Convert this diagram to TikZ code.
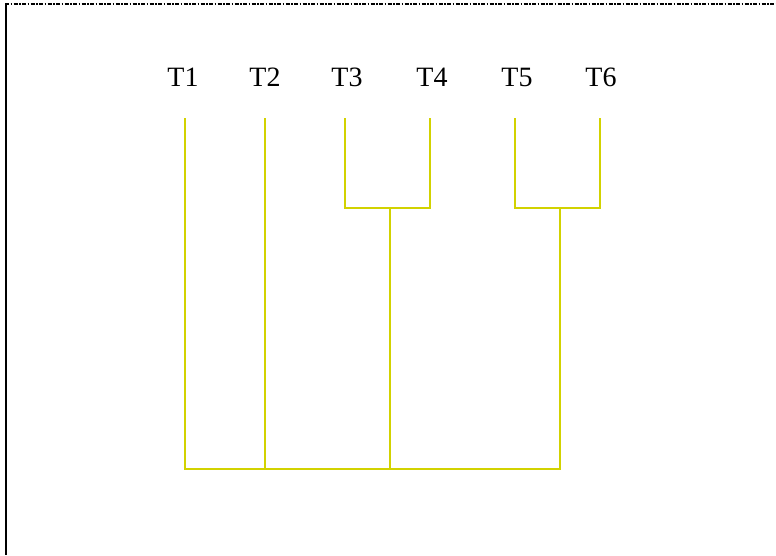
\documentclass[tikz,border=0pt]{standalone}
\usepackage{fontspec}
\setmainfont{Liberation Serif}
\begin{document}
\begin{tikzpicture}[x=1pt,y=-1pt,
  lbl/.style={font=\fontsize{28}{30}\selectfont, inner sep=0pt, anchor=base},
  branch/.style={draw={rgb,255:red,210;green,210;blue,0}, line width=1.2pt}]
\useasboundingbox (0,0) rectangle (776,555);
\draw[black, line width=2.5pt] (6,3) -- (6,555);
\draw[black, line width=2.5pt, dash pattern=on 4pt off 1.5pt on 1.5pt off 1.5pt] (5,4) -- (776,4);
% labels
\node[lbl] (t1) at (183,86) {T1};
\node[lbl] (t2) at (265,86) {T2};
\node[lbl] (t3) at (347,86) {T3};
\node[lbl] (t4) at (432,86) {T4};
\node[lbl] (t5) at (517,86) {T5};
\node[lbl] (t6) at (601,86) {T6};
% tree coordinates
\coordinate (l1) at (185,118);
\coordinate (l2) at (265,118);
\coordinate (l3) at (345,118);
\coordinate (l4) at (430,118);
\coordinate (l5) at (515,118);
\coordinate (l6) at (600,118);
\coordinate (n34) at (390,208);
\coordinate (n56) at (560,208);
\coordinate (root) at (390,469);
% branches
\draw[branch] (l3) |- (n34) -| (l4);
\draw[branch] (l5) |- (n56) -| (l6);
\draw[branch] (l1) |- (root) -| (n56);
\draw[branch] (l2) -- (l2 |- root);
\draw[branch] (n34) -- (root);
\end{tikzpicture}
\end{document}
